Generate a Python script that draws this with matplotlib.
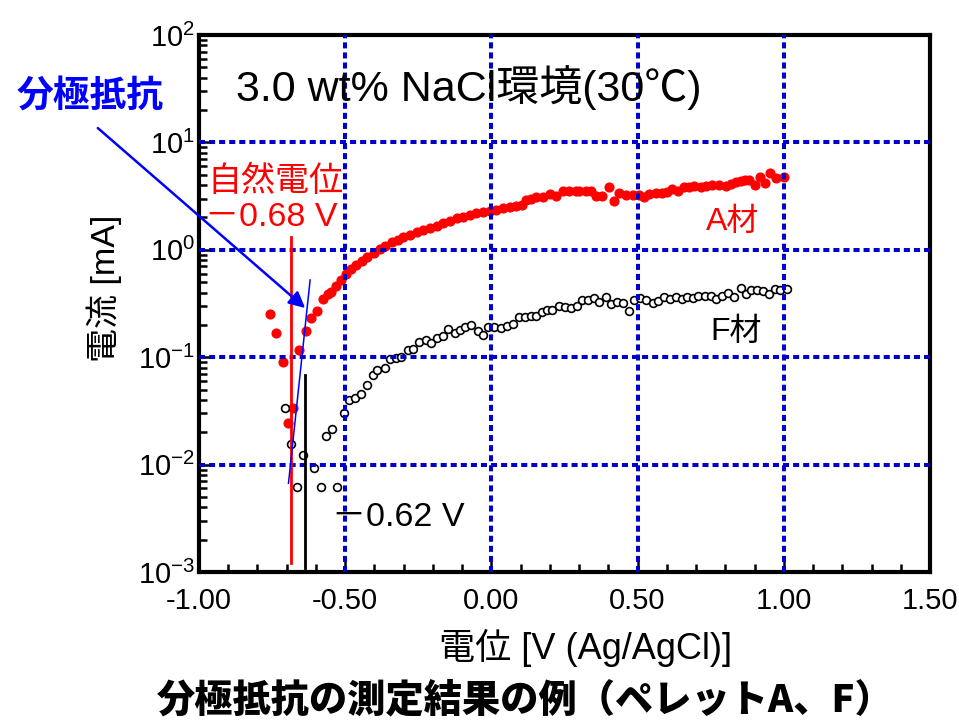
import matplotlib
matplotlib.use("Agg")
import matplotlib.pyplot as plt
import numpy as np

plt.rcParams['font.family'] = ['Liberation Sans', 'Noto Sans CJK JP', 'DejaVu Sans']
plt.rcParams['axes.unicode_minus'] = False
plt.rcParams['mathtext.fontset'] = 'custom'
plt.rcParams['mathtext.rm'] = 'Liberation Sans'
plt.rcParams['mathtext.it'] = 'Liberation Sans:italic'
plt.rcParams['mathtext.bf'] = 'Liberation Sans:bold'

# ---- data: A material (red filled circles) ----
a_v = [-0.757, -0.735, -0.714, -0.696, -0.677, -0.657, -0.635, -0.616, -0.596, -0.575,
       -0.560, -0.550, -0.533, -0.516, -0.497, -0.479, -0.462, -0.442, -0.425, -0.403,
       -0.382, -0.363, -0.340, -0.318, -0.301, -0.278, -0.255, -0.233, -0.210, -0.187,
       -0.165, -0.142, -0.119, -0.096, -0.074, -0.051, -0.028, -0.005, 0.017, 0.040,
       0.063, 0.085, 0.103, 0.120, 0.137, 0.154, 0.176, 0.199, 0.222, 0.244,
       0.267, 0.290, 0.301, 0.324, 0.341, 0.358, 0.378, 0.403, 0.420, 0.437,
       0.460, 0.483, 0.505, 0.522, 0.540, 0.562, 0.585, 0.602, 0.619, 0.639,
       0.659, 0.676, 0.693, 0.716, 0.733, 0.755, 0.778, 0.801, 0.818, 0.835,
       0.852, 0.869, 0.880, 0.901, 0.918, 0.934, 0.954, 0.973, 0.999]
a_i = [0.254, 0.168, 0.0895, 0.0244, 0.0336, 0.116, 0.174, 0.233, 0.272, 0.35,
       0.389, 0.403, 0.458, 0.525, 0.597, 0.664, 0.728, 0.794, 0.851, 0.936,
       1.02, 1.09, 1.17, 1.24, 1.31, 1.38, 1.45, 1.53, 1.60, 1.68,
       1.76, 1.87, 1.96, 2.04, 2.12, 2.20, 2.26, 2.31, 2.36, 2.43,
       2.48, 2.54, 2.63, 2.93, 2.97, 3.08, 3.08, 3.31, 3.19, 3.50,
       3.50, 3.55, 3.55, 3.50, 3.55, 3.19, 3.19, 3.86, 2.86, 3.35,
       3.24, 3.24, 3.26, 3.08, 3.31, 3.35, 3.35, 3.48, 3.68, 3.50,
       3.81, 3.87, 3.95, 3.81, 3.95, 4.01, 4.01, 3.89, 4.10, 4.24,
       4.39, 4.46, 4.46, 4.01, 4.79, 4.19, 5.14, 4.66, 4.79]

# ---- data: F material (black open circles) ----
f_v = [-0.706, -0.687, -0.666, -0.645, -0.607, -0.584, -0.566, -0.545, -0.528, -0.505,
       -0.486, -0.468, -0.446, -0.425, -0.405, -0.391, -0.363, -0.346, -0.327, -0.309,
       -0.284, -0.267, -0.247, -0.224, -0.206, -0.187, -0.164, -0.147, -0.125, -0.108,
       -0.091, -0.070, -0.045, -0.028, -0.011, 0.009, 0.034, 0.053, 0.074, 0.094,
       0.114, 0.134, 0.151, 0.173, 0.191, 0.208, 0.230, 0.252, 0.273, 0.292,
       0.310, 0.332, 0.350, 0.369, 0.392, 0.409, 0.428, 0.449, 0.469, 0.488,
       0.509, 0.530, 0.551, 0.570, 0.591, 0.610, 0.630, 0.651, 0.670, 0.689,
       0.707, 0.729, 0.750, 0.769, 0.789, 0.810, 0.829, 0.852, 0.871, 0.889,
       0.908, 0.928, 0.948, 0.969, 0.988, 1.011]
f_i = [0.0337, 0.0154, 0.0062, 0.0124, 0.0092, 0.0062, 0.0185, 0.0215, 0.0062, 0.0305,
       0.0397, 0.0421, 0.0458, 0.0547, 0.0678, 0.0754, 0.0792, 0.0968, 0.098, 0.100,
       0.117, 0.120, 0.138, 0.146, 0.136, 0.151, 0.156, 0.184, 0.168, 0.180,
       0.191, 0.200, 0.177, 0.162, 0.193, 0.193, 0.186, 0.194, 0.205, 0.236,
       0.236, 0.241, 0.241, 0.263, 0.278, 0.277, 0.299, 0.292, 0.286, 0.299,
       0.344, 0.344, 0.357, 0.325, 0.362, 0.310, 0.325, 0.321, 0.272, 0.344,
       0.357, 0.342, 0.321, 0.337, 0.362, 0.350, 0.362, 0.350, 0.362, 0.357,
       0.370, 0.370, 0.370, 0.350, 0.375, 0.394, 0.362, 0.439, 0.389, 0.418,
       0.418, 0.411, 0.389, 0.433, 0.418, 0.427]

# corrosion potentials and markers
ecorr_a = -0.685
ecorr_a_range = [0.00121, 1.31]
ecorr_f = -0.636
ecorr_f_range = [0.00109, 0.0683]
fit_v = [-0.694, -0.620]
fit_i = [0.0067, 0.524]
arrow_from = (-1.346, 13.6)
arrow_to = (-0.637, 0.287)

x_ticks = [-1.0, -0.5, 0.0, 0.5, 1.0, 1.5]
x_ticklabels = ['-1.00', '-0.50', '0.00', '0.50', '1.00', '1.50']
y_ticks = [1e-3, 1e-2, 1e-1, 1e0, 1e1, 1e2]

W, H = 959, 720
fig = plt.figure(figsize=(W / 100, H / 100), dpi=100)
ax = fig.add_axes([199 / W, 1 - 572 / H, (930 - 199) / W, (572 - 35) / H])

ax.set_yscale('log')
ax.set_xlim(-1.0, 1.5)
ax.set_ylim(1e-3, 1e2)

grid_c = '#0000CC'
for xv in x_ticks[1:-1]:
    ax.axvline(xv, color=grid_c, lw=2.9, ls=(0, (1.5, 1.0)), zorder=2.6)
for yv in y_ticks[1:-1]:
    ax.axhline(yv, color=grid_c, lw=2.9, ls=(0, (1.5, 1.0)), zorder=2.6)

ax.plot(a_v, a_i, 'o', color='#FF0000', ms=6.3, mec='#FF0000', zorder=2)
ax.plot(f_v, f_i, 'o', mfc='white', mec='black', ms=5.6, mew=1.2, zorder=2)

ax.plot([ecorr_a, ecorr_a], ecorr_a_range, color='#FF0000', lw=2.0, zorder=3)
ax.plot([ecorr_f, ecorr_f], ecorr_f_range, color='black', lw=2.0, zorder=3)
ax.plot(fit_v, fit_i, color='#0000FF', lw=1.1, zorder=3)
ax.annotate('', xy=arrow_to, xytext=arrow_from, xycoords='data', textcoords='data',
            annotation_clip=False,
            arrowprops=dict(arrowstyle='-|>', color='#0000FF', lw=1.8,
                            mutation_scale=24, shrinkA=0, shrinkB=0), zorder=4)

ax.set_xticks(x_ticks)
ax.set_xticklabels(x_ticklabels)
ax.set_xticks(np.arange(-1.0, 1.5001, 0.1), minor=True)
ax.set_yticks(y_ticks)
for sp in ax.spines.values():
    sp.set_linewidth(3.0)
ax.tick_params(axis='both', which='both', direction='in', top=False, right=False,
               width=1.8, color='black')
ax.tick_params(axis='x', which='major', length=9, pad=11, labelsize=21)
ax.tick_params(axis='x', which='minor', length=6)
ax.tick_params(axis='y', which='major', length=9, pad=3, labelsize=21)
ax.tick_params(axis='y', which='minor', length=6)

# labels
fig.text(586 / W, 1 - 648 / H, '電位 [V (Ag/AgCl)]', fontsize=26, ha='center', va='center')
fig.text(104 / W, 1 - 288 / H, '電流 [mA]', fontsize=24.5, ha='center', va='center',
         rotation=90)
fig.text(236 / W, 1 - 88 / H, '3.0 wt% NaCl環境(30℃)', fontsize=31, ha='left', va='center')
fig.text(90 / W, 1 - 96 / H, '分極抵抗', fontsize=26.5, ha='center', va='center',
         color='#0000FF', fontweight='bold', family=['Noto Sans CJK JP'])
fig.text(207 / W, 1 - 182 / H, '自然電位', fontsize=24.5, ha='left', va='center', color='#FF0000')
fig.text(205 / W, 1 - 218 / H, '－0.68 V', fontsize=24.5, ha='left', va='center', color='#FF0000')
fig.text(332 / W, 1 - 517 / H, '－0.62 V', fontsize=24.5, ha='left', va='center', color='black')
fig.text(733 / W, 1 - 222 / H, 'A材', fontsize=23, ha='center', va='center', color='#FF0000')
fig.text(736 / W, 1 - 332 / H, 'F材', fontsize=23, ha='center', va='center', color='black')
fig.text(525 / W, 1 - 700 / H, '分極抵抗の測定結果の例（ペレットA、F）', fontsize=27.5,
         ha='center', va='center', fontweight='heavy', family=['Noto Sans CJK JP'])

fig.savefig('out.png', dpi=100)
